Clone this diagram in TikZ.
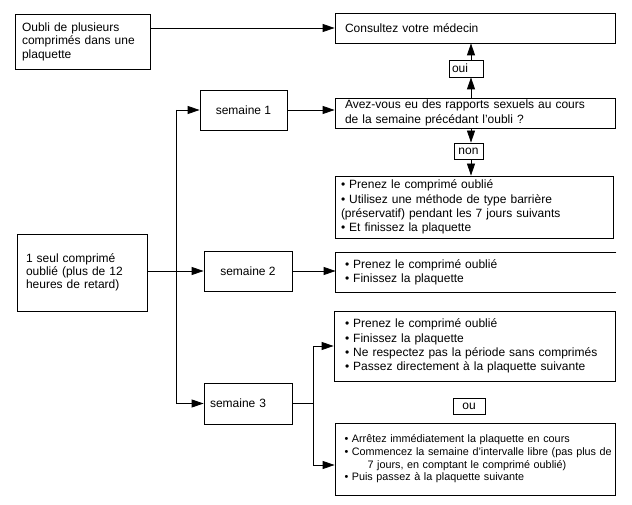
\documentclass[tikz,border=0pt]{standalone}
\usepackage{fontspec}
\setmainfont{Liberation Sans}
\usetikzlibrary{arrows.meta}

\tikzset{
  boite/.style={draw, line width=0.8pt, inner ysep=0pt, align=left, font=\fontsize{12}{14.3}\selectfont},
  etiq/.style={draw, line width=0.8pt, inner sep=0pt, font=\fontsize{12}{14}\selectfont},
  fleche/.style={line width=0.8pt, -{Triangle[length=12pt,width=8pt]}},
  trait/.style={line width=0.8pt},
}

\begin{document}
\begin{tikzpicture}[x=1pt,y=-1pt]
\useasboundingbox (0,0) rectangle (632,505);
% boites de gauche
\node[boite, text width=121pt, inner xsep=7pt, minimum height=55pt, font=\fontsize{12}{13.5}\selectfont] (oubli) at (82.5,41.5) {Oubli de plusieurs\\comprimés dans une\\plaquette};
\node[boite, text width=112pt, inner xsep=9pt, minimum height=77pt, font=\fontsize{12}{13.3}\selectfont] (seul) at (82,272.5) {1 seul comprimé\\oublié (plus de 12\\heures de retard)};
% semaines
\node[etiq, minimum width=87pt, minimum height=40pt] (sem1) at (243.5,110) {semaine 1};
\node[etiq, minimum width=88pt, minimum height=40pt] (sem2) at (248,271) {semaine 2};
\node[etiq, align=left, text width=76pt, inner xsep=6pt, minimum height=41pt] (sem3) at (248,403.5) {semaine 3};
% boites de droite
\node[boite, text width=260pt, inner xsep=10pt, minimum height=30pt] (medecin) at (475,28) {Consultez votre médecin};
\node[etiq, align=left, text width=28pt, inner xsep=3pt, minimum height=17pt] (oui) at (466,68.5) {oui};
\node[boite, text width=260pt, inner xsep=10pt, minimum height=30pt] (question) at (475,113) {Avez-vous eu des rapports sexuels au cours\\de la semaine précédant l’oubli ?};
\node[etiq, minimum width=29pt, minimum height=16pt] (non) at (468.5,151) {non};
\node[boite, text width=266pt, inner xsep=6pt, minimum height=62pt] (s1box) at (474,207) {• Prenez le comprimé oublié\\• Utilisez une méthode de type barrière\\(préservatif) pendant les 7 jours suivants\\• Et finissez la plaquette};
\node[boite, draw=none, text width=262pt, inner xsep=9pt, minimum height=39pt] (s2box) at (476,272.5) {• Prenez le comprimé oublié\\• Finissez la plaquette};
\draw[trait] (s2box.north east) -- (s2box.north west) -- (s2box.south west) -- (s2box.south east);
\node[boite, text width=259pt, inner xsep=11pt, minimum height=70pt] (s3a) at (474.5,346) {• Prenez le comprimé oublié\\• Finissez la plaquette\\• Ne respectez pas la période sans comprimés\\• Passez directement à la plaquette suivante};
\node[etiq, minimum width=32pt, minimum height=16pt] (ou) at (469,406) {ou};
\node[boite, text width=277pt, inner xsep=1.5pt, minimum height=72pt, font=\fontsize{10.8}{12.7}\selectfont] (s3b) at (475,459) {\hspace*{8pt}• Arrêtez immédiatement la plaquette en cours\\\hspace*{8pt}• Commencez la semaine d’intervalle libre (pas plus de\\\hspace*{31pt}7 jours, en comptant le comprimé oublié)\\\hspace*{8pt}• Puis passez à la plaquette suivante};
% axes des fleches
\coordinate (trunk) at (176,0);
\coordinate (qaxis) at (471,0);
\coordinate (fork) at (313,0);
\coordinate (s3bin) at ([yshift=-6pt]s3b.west);
% fleches
\draw[fleche] (oubli.east |- medecin.west) -- (medecin.west);
\draw[fleche] (question.north -| qaxis) -- (oui.south -| qaxis);
\draw[fleche] (oui.north -| qaxis) -- (medecin.south -| qaxis);
\draw[fleche] (question.south -| qaxis) -- (non.north -| qaxis);
\draw[fleche] (non.south -| qaxis) -- (s1box.north -| qaxis);
\draw[fleche] (sem1.east) -- (sem1.east -| question.west);
\draw[trait] (sem1.west -| trunk) -- (sem3.west -| trunk);
\draw[fleche] (sem1.west -| trunk) -- (sem1.west);
\draw[fleche] (seul.east |- sem2.west) -- (sem2.west);
\draw[fleche] (sem3.west -| trunk) -- (sem3.west);
\draw[fleche] (sem2.east) -- (sem2.east -| s2box.west);
\draw[trait] (sem3.east) -- (sem3.east -| fork);
\draw[trait] (fork |- s3a.west) -- (fork |- s3bin);
\draw[fleche] (fork |- s3a.west) -- (s3a.west);
\draw[fleche] (fork |- s3bin) -- (s3bin);
\end{tikzpicture}
\end{document}
